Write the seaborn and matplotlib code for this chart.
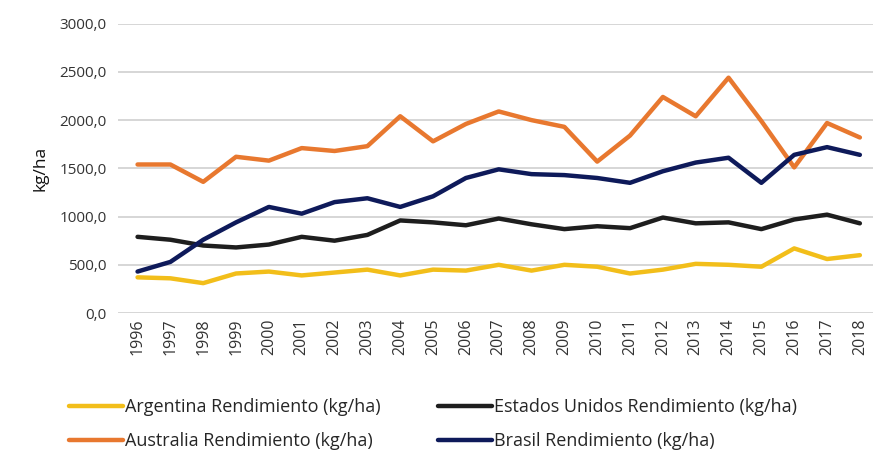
import matplotlib
matplotlib.use("Agg")
import matplotlib.pyplot as plt
import seaborn as sns
import pandas as pd
from matplotlib.ticker import FuncFormatter
from matplotlib.lines import Line2D

years = list(range(1996, 2019))
argentina = [370, 360, 310, 410, 430, 390, 420, 450, 390, 450, 440, 500, 440, 500, 480, 410, 450, 510, 500, 480, 670, 560, 600]
estados_unidos = [790, 760, 700, 680, 710, 790, 750, 810, 960, 940, 910, 980, 920, 870, 900, 880, 990, 930, 940, 870, 970, 1020, 930]
australia = [1540, 1540, 1360, 1620, 1580, 1710, 1680, 1730, 2040, 1780, 1960, 2090, 2000, 1930, 1570, 1840, 2240, 2040, 2440, 1990, 1510, 1970, 1820]
brasil = [430, 530, 760, 940, 1100, 1030, 1150, 1190, 1100, 1210, 1400, 1490, 1440, 1430, 1400, 1350, 1470, 1560, 1610, 1350, 1640, 1720, 1640]

series_names = ["Argentina Rendimiento (kg/ha)", "Estados Unidos Rendimiento (kg/ha)",
                "Australia Rendimiento (kg/ha)", "Brasil Rendimiento (kg/ha)"]
colors = ["#F2BE1A", "#1E1E1E", "#E8782F", "#0E1A5A"]

df = pd.concat([
    pd.DataFrame({"Año": years, "Valor": vals, "Serie": name})
    for name, vals in zip(series_names, [argentina, estados_unidos, australia, brasil])
])

sns.set_theme(style="white")
plt.rcParams['font.family'] = ['Open Sans', 'DejaVu Sans']

fig = plt.figure(figsize=(8.73, 4.55), dpi=100)
ax = fig.add_axes([0.135, 0.312, 0.865, 0.636])

sns.lineplot(data=df, x="Año", y="Valor", hue="Serie", palette=dict(zip(series_names, colors)),
             linewidth=3.2, ax=ax, legend=False)

ax.set_ylim(0, 3000)
ax.set_yticks(range(0, 3001, 500))
ax.yaxis.set_major_formatter(FuncFormatter(lambda v, p: f"{v:.1f}".replace(".", ",")))
ax.set_xlim(1995.4, 2018.4)
ax.set_xticks(years)
ax.set_xticklabels([str(y) for y in years], rotation=90, fontsize=11.5, color="#333333")
ax.tick_params(axis="y", labelsize=11, labelcolor="#333333", length=0, pad=8)
ax.tick_params(axis="x", length=0, pad=4)
ax.grid(axis="y", color="#CFCFCF", linewidth=1.2)
ax.set_axisbelow(True)
for s in ax.spines.values():
    s.set_visible(False)
ax.set_xlabel("")
ax.set_ylabel("kg/ha", fontsize=12.5, color="#111111", labelpad=8)

order = [0, 2, 1, 3]
handles = [Line2D([], [], color=colors[i], linewidth=3.2) for i in order]
labels = [series_names[i] for i in order]
fig.legend(handles, labels, loc="lower left", bbox_to_anchor=(0.06, -0.025), ncol=2,
           frameon=False, handlelength=3.0, handletextpad=0.1,
           columnspacing=3.2, labelspacing=0.9,
           prop={"family": ["Open Sans", "DejaVu Sans"], "size": 13})

fig.savefig("out.png", dpi=100)
